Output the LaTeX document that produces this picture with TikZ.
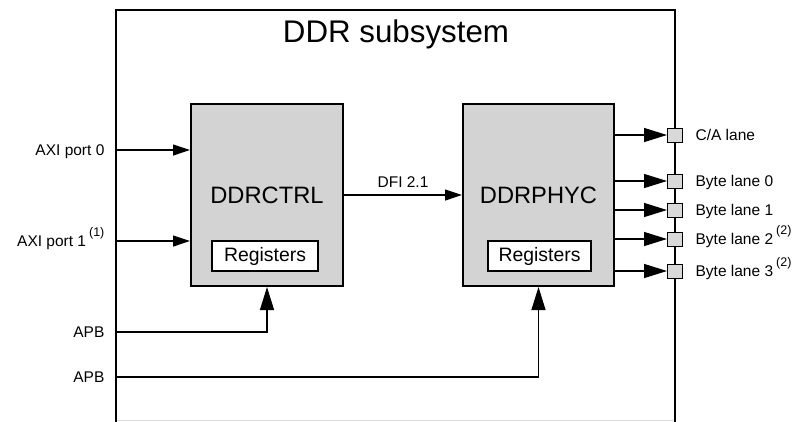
\documentclass[tikz,border=0pt]{standalone}
\usepackage{fontspec}
\setmainfont{Liberation Sans}
\usepackage{tikz}
\usetikzlibrary{arrows.meta,positioning,calc}
\definecolor{blockgray}{RGB}{211,211,211}
\definecolor{padgray}{RGB}{217,217,217}
\definecolor{edgegray}{RGB}{220,220,220}
\newcommand{\fnote}[1]{\hspace{3pt}\raisebox{10pt}{\fontsize{12.5}{12.5}\selectfont(#1)}}

\begin{document}
\begin{tikzpicture}[
    x=1pt, y=-1pt,
    line width=1.2pt,
    %
    sysline/.style={draw=black, line width=2.5pt},
    block/.style={draw=black, rectangle, line width=2pt, fill=blockgray,
                  font=\fontsize{23.7}{26}\selectfont},
    regbox/.style={draw=black, rectangle, line width=1.2pt, fill=white,
                   minimum width=104pt, minimum height=30pt,
                   font=\fontsize{19.4}{22}\selectfont},
    pad/.style={draw=black, rectangle, line width=1pt, fill=padgray,
                minimum width=15pt, minimum height=14pt, inner sep=0pt},
    lbl/.style={inner sep=0pt, text height=11.1pt, text depth=0pt,
                font=\fontsize{15.5}{17}\selectfont},
    %
    sarrow/.style={-{Triangle[length=17pt,width=11pt]}},
    barrow/.style={-{Triangle[length=23pt,width=14pt]}}
    ]

    \useasboundingbox (0,0) rectangle (798,421);

    % subsystem frame, open at the bottom
    \coordinate (sysW) at (116,10);
    \coordinate (sysE) at (675,10);
    \draw[edgegray, line width=1pt] (116,420) -- (675,420);
    \draw[sysline] (116,423) -- (sysW) -- (sysE) -- (675,423);
    \node[anchor=base, font=\fontsize{31.3}{34}\selectfont] (title) at (396,42) {DDR subsystem};

    % blocks
    \node[block, minimum width=152pt, minimum height=182pt] (ctrl) at (267,195) {};
    \node[block, minimum width=151pt, minimum height=182pt] (phyc) at (538.5,195) {};
    \node[font=\fontsize{23.7}{26}\selectfont] (ctrltxt) at (267,195) {DDRCTRL};
    \node[font=\fontsize{23.7}{26}\selectfont] (phyctxt) at (538.5,195) {DDRPHYC};
    \node[regbox, minimum width=106pt] (ctrlreg) at (265,256) {Registers};
    \node[regbox, minimum width=103pt] (phycreg) at (539.5,256) {Registers};

    % inputs
    \node[lbl, anchor=east] (axi0) at (105,150) {AXI port 0};
    \node[lbl, anchor=east] (axi1) at (105,241) {AXI port 1\fnote{1}};
    \node[lbl, anchor=east] (apbA) at (105,332) {APB};
    \node[lbl, anchor=east] (apbB) at (105,377) {APB};
    \draw[sarrow] (axi0 -| sysW) -- (axi0 -| ctrl.west);
    \draw[sarrow] (axi1 -| sysW) -- (axi1 -| ctrl.west);
    \draw[barrow] (apbA -| sysW) -| (ctrl.south);
    \draw[barrow] (apbB -| sysW) -| (phyc.south);

    % controller to phy
    \draw[sarrow] (ctrl.east) -- node[lbl, above=7pt] (dfi) {DFI 2.1} (phyc.west);

    % lanes
    \foreach \nm/\yy/\txt in {ca/135/{C/A lane}, bl0/181/{Byte lane 0}, bl1/210/{Byte lane 1},
                              bl2/239/{Byte lane 2\fnote{2}}, bl3/271/{Byte lane 3\fnote{2}}}{
        \node[pad] (\nm) at (675,\yy) {};
        \node[lbl, anchor=west] (\nm txt) at (695,\yy) {\txt};
        \draw[barrow] (\nm -| phyc.east) -- (\nm.west);
    }

\end{tikzpicture}
\end{document}
